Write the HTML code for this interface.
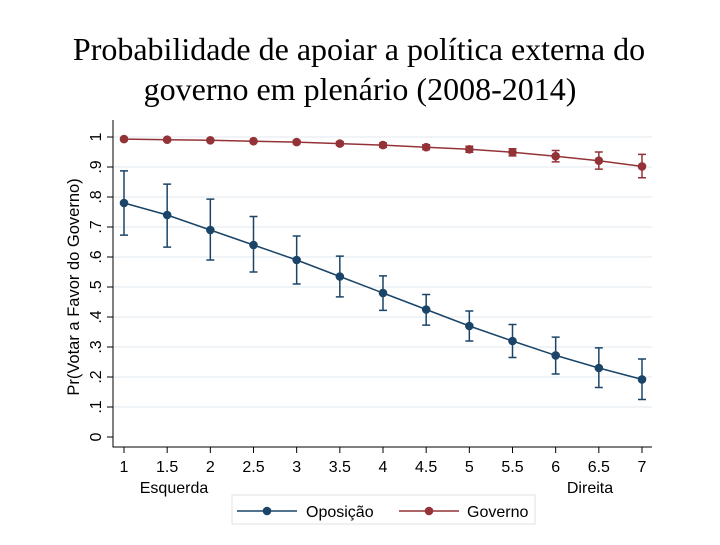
<!DOCTYPE html>
<html><head><meta charset="utf-8"><style>
body{margin:0;background:#fff;width:720px;height:540px;overflow:hidden}
svg text{font-family:"Liberation Sans",sans-serif}
</style></head><body>
<svg id="c" width="720" height="540">
<text x="359" y="60" text-anchor="middle" font-size="32" style="font-family:'Liberation Serif',serif">Probabilidade de apoiar a política externa do</text>
<text x="360" y="100" text-anchor="middle" font-size="32" style="font-family:'Liberation Serif',serif">governo em plenário (2008-2014)</text>
<g id="g"></g>
</svg>
<script>
const xs=[1,1.5,2,2.5,3,3.5,4,4.5,5,5.5,6,6.5,7];
const opo=[.78,.74,.69,.64,.59,.535,.48,.425,.37,.32,.272,.23,.192];
const opoLo=[.673,.633,.59,.55,.51,.467,.422,.373,.32,.265,.21,.165,.125];
const opoHi=[.887,.843,.793,.735,.67,.603,.537,.475,.42,.375,.333,.297,.26];
const gov=[.993,.991,.989,.986,.983,.978,.973,.966,.959,.949,.936,.921,.902];
const govLo=[.99,.988,.986,.982,.978,.972,.966,.958,.949,.937,.917,.893,.864];
const govHi=[.996,.994,.992,.99,.988,.984,.98,.974,.969,.961,.955,.95,.942];
const yTicks=[0,.1,.2,.3,.4,.5,.6,.7,.8,.9,1];
const yLabels=["0",".1",".2",".3",".4",".5",".6",".7",".8",".9","1"];
const X=v=>124+(v-1)*(642-124)/6, Y=v=>437-v*300;
const g=document.getElementById('g'),NS='http://www.w3.org/2000/svg';
function mk(t,a,p){const e=document.createElementNS(NS,t);for(const k in a)e.setAttribute(k,a[k]);(p||g).appendChild(e);return e;}
yTicks.forEach((t,i)=>{
 if(t>0){const l=mk('line',{x1:113,x2:652,y1:Y(t),y2:Y(t),stroke:'#e2e8ec','stroke-width':1});
 
 }
 const tk=mk('line',{x1:107,x2:113,y1:Y(t),y2:Y(t),stroke:'#000'});
 
 
 const tx=mk('text',{x:0,y:0,'font-size':16,'text-anchor':'middle',transform:`translate(101,${Y(t)}) rotate(-90)`});
 tx.textContent=yLabels[i];
 
 
});
const ax=mk('path',{d:'M113,120V447H652',fill:'none',stroke:'#000'});


xs.forEach(v=>{
 const tk=mk('line',{x1:X(v),x2:X(v),y1:447,y2:453,stroke:'#000'});
 
 
 const tx=mk('text',{x:X(v),y:472,'font-size':16,'text-anchor':'middle'});
 tx.textContent=String(v);
 
 
});
const e1=mk('text',{x:174,y:493,'font-size':16,'text-anchor':'middle'});e1.textContent='Esquerda';


const e2=mk('text',{x:590,y:493,'font-size':16,'text-anchor':'middle'});e2.textContent='Direita';


const yt=mk('text',{x:0,y:0,'font-size':16.5,'text-anchor':'middle',transform:'translate(79,287) rotate(-90)'});yt.textContent='Pr(Votar a Favor do Governo)';


function series(v,lo,hi,col,name){
 const p=mk('polyline',{points:xs.map((x,i)=>X(x)+','+Y(v[i])).join(' '),fill:'none',stroke:col,'stroke-width':1.5});
 
 
 xs.forEach((x,i)=>{
  const e=mk('path',{d:`M${X(x)},${Y(lo[i])}V${Y(hi[i])}M${X(x)-4},${Y(lo[i])}h8M${X(x)-4},${Y(hi[i])}h8`,stroke:col,'stroke-width':1.5,fill:'none'});
  
  
  const c=mk('circle',{cx:X(x),cy:Y(v[i]),r:4.3,fill:col});
  
  
 });
}
series(opo,opoLo,opoHi,'#1a4568','oposicao');
series(gov,govLo,govHi,'#943337','governo');
const lb=mk('rect',{x:232,y:495,width:303,height:29,fill:'#fff',stroke:'#e0e0e0'});


[['Oposição','#1a4568',237,306],['Governo','#943337',399,467]].forEach(([n,c,x0,tx])=>{
 const l=mk('line',{x1:x0,x2:x0+60,y1:511,y2:511,stroke:c,'stroke-width':1.5});
 
 
 const d=mk('circle',{cx:x0+30,cy:511,r:4.3,fill:c});
 
 
 const t=mk('text',{x:tx,y:517,'font-size':16});t.textContent=n;
 
 
});
</script>
</body></html>
